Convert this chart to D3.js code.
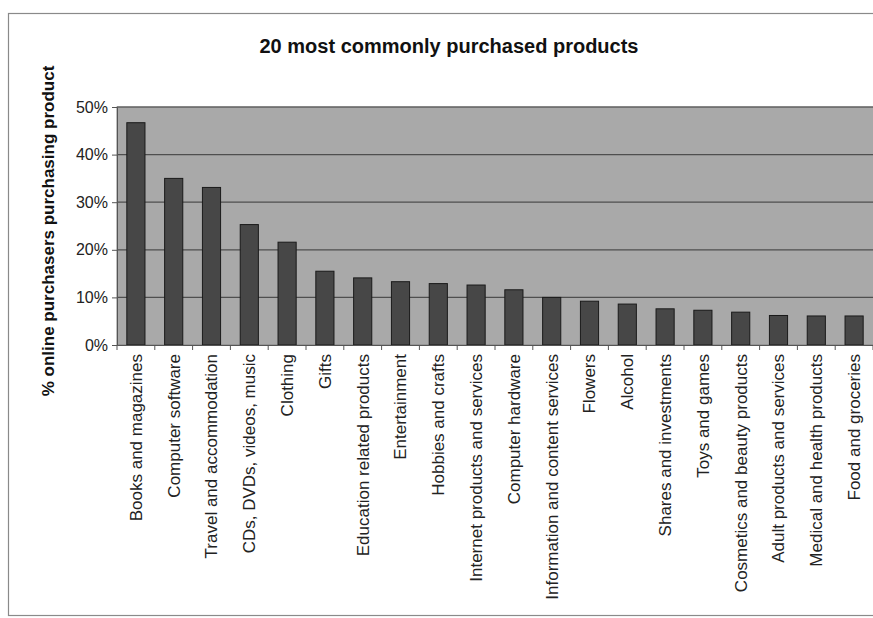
<!DOCTYPE html>
<html>
<head>
<meta charset="utf-8">
<script src="https://cdn.jsdelivr.net/npm/d3@7"></script>
<style>
  html, body { margin: 0; padding: 0; background: #fff; }
  svg { display: block; font-family: "Liberation Sans", Arial, sans-serif; }
</style>
</head>
<body>
<svg id="chart" width="873" height="618"></svg>
<script>
const categories = [
  "Books and magazines", "Computer software", "Travel and accommodation",
  "CDs, DVDs, videos, music", "Clothing", "Gifts", "Education related products",
  "Entertainment", "Hobbies and crafts", "Internet products and services",
  "Computer hardware", "Information and content services", "Flowers", "Alcohol",
  "Shares and investments", "Toys and games", "Cosmetics and beauty products",
  "Adult products and services", "Medical and health products", "Food and groceries"
];
const values = [46.7, 35.0, 33.1, 25.3, 21.6, 15.5, 14.1, 13.3, 12.9, 12.6,
                11.6, 10.0, 9.2, 8.6, 7.6, 7.3, 6.9, 6.2, 6.1, 6.1];
const yTicks = [0, 10, 20, 30, 40, 50];
const title = "20 most commonly purchased products";
const yLabel = "% online purchasers purchasing product";

const svg = d3.select("#chart");

// chart frame
svg.append("rect")
  .attr("x", 8.5).attr("y", 13.5)
  .attr("width", 900).attr("height", 602)
  .attr("fill", "#fff").attr("stroke", "#8a8a8a").attr("stroke-width", 1.2);

const pLeft = 117, pRight = 873, pTop = 107, pBottom = 345;

const x = d3.scaleBand().domain(categories).range([pLeft, pRight])
  .paddingInner(0.52).paddingOuter(0.26);
const y = d3.scaleLinear().domain([0, 50]).range([pBottom, pTop]);

// plot background
svg.append("rect")
  .attr("x", pLeft).attr("y", pTop)
  .attr("width", pRight - pLeft + 10).attr("height", pBottom - pTop)
  .attr("fill", "#a9a9a9").attr("stroke", "#808080").attr("stroke-width", 1);

// gridlines
svg.append("g").selectAll("line")
  .data(yTicks.filter(d => d > 0))
  .join("line")
  .attr("x1", pLeft).attr("x2", pRight + 10)
  .attr("y1", d => y(d)).attr("y2", d => y(d))
  .attr("stroke", "#4f4f4f").attr("stroke-width", 1.2);

// bars
svg.append("g").selectAll("rect")
  .data(values)
  .join("rect")
  .attr("x", (d, i) => x(categories[i]))
  .attr("y", d => y(d))
  .attr("width", x.bandwidth())
  .attr("height", d => pBottom - y(d))
  .attr("fill", "#474747")
  .attr("stroke", "#1a1a1a").attr("stroke-width", 1);

// y axis
const yAxis = svg.append("g")
  .attr("transform", `translate(${pLeft},0)`)
  .call(d3.axisLeft(y).tickValues(yTicks).tickSize(5).tickPadding(4)
    .tickFormat(d => d + "%"));
yAxis.select(".domain").attr("stroke", "#555");
yAxis.selectAll(".tick line").attr("stroke", "#555");
yAxis.selectAll("text").attr("font-size", 16).attr("fill", "#222")
  .attr("font-family", "'Liberation Sans', Arial, sans-serif");

// x axis
const xAxis = svg.append("g")
  .attr("transform", `translate(0,${pBottom})`)
  .call(d3.axisBottom(x).tickSize(0).tickPadding(0));
xAxis.select(".domain").attr("stroke", "#555");
xAxis.selectAll(".tick text")
  .attr("transform", "rotate(-90)")
  .attr("text-anchor", "end")
  .attr("x", -9).attr("y", 0).attr("dy", "0.35em")
  .attr("font-size", 17).attr("fill", "#222")
  .attr("font-family", "'Liberation Sans', Arial, sans-serif");

// category separator ticks
const step = x.step();
svg.append("g").selectAll("line")
  .data(d3.range(categories.length + 1))
  .join("line")
  .attr("x1", i => pLeft + i * step).attr("x2", i => pLeft + i * step)
  .attr("y1", pBottom).attr("y2", pBottom + 5)
  .attr("stroke", "#555");

// title
svg.append("text")
  .attr("x", 449).attr("y", 53)
  .attr("text-anchor", "middle")
  .attr("font-size", 20).attr("font-weight", "bold").attr("fill", "#111")
  .text(title);

// y label
svg.append("text")
  .attr("transform", `translate(54,231) rotate(-90)`)
  .attr("text-anchor", "middle")
  .attr("font-size", 17).attr("font-weight", "bold").attr("fill", "#111")
  .text(yLabel);
</script>
</body>
</html>
